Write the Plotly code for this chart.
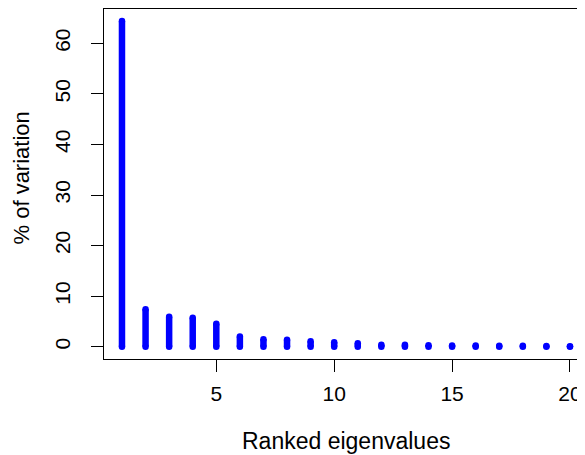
import plotly.graph_objects as go

ranks = list(range(1, 21))
pct_variation = [64.4, 7.4, 5.9, 5.75, 4.55, 2.0, 1.5, 1.4, 1.07, 0.87,
                 0.67, 0.4, 0.4, 0.3, 0.25, 0.25, 0.2, 0.2, 0.15, 0.1]
x_ticks = [5, 10, 15, 20]
y_ticks = [0, 10, 20, 30, 40, 50, 60]

xs, ys = [], []
for r, v in zip(ranks, pct_variation):
    xs += [r, r, None]
    ys += [0, v, None]

fig = go.Figure()
fig.add_trace(go.Scatter(
    x=xs, y=ys, mode="lines+markers",
    line=dict(color="#0000FF", width=6.5),
    marker=dict(color="#0000FF", size=6.5, line=dict(width=0)),
    hoverinfo="skip", showlegend=False, cliponaxis=False))

font = dict(family="Liberation Sans, Arial, sans-serif", size=21, color="black")
xt_font = dict(family="Liberation Sans, Arial, sans-serif", size=23, color="black")
yt_font = dict(family="Liberation Sans, Arial, sans-serif", size=22, color="black")
# page body has an 8px default margin, so the figure is 8px smaller
fig.update_layout(
    width=577, height=447,
    margin=dict(l=96, r=0, t=1, b=96, pad=0, autoexpand=False),
    paper_bgcolor="white", plot_bgcolor="white",
    font=font,
    xaxis=dict(range=[0.2375, 20.637], tickvals=x_ticks, ticktext=[str(t) for t in x_ticks],
               showgrid=False, zeroline=False, showline=True, linecolor="black", linewidth=1,
               mirror=True, ticks="outside", ticklen=12, tickcolor="black", tickwidth=1,
               ticklabelstandoff=4, automargin=False),
    yaxis=dict(range=[-2.43, 66.78], tickvals=y_ticks, ticktext=[str(t) for t in y_ticks],
               showgrid=False, zeroline=False, showline=True, linecolor="black", linewidth=1,
               ticks="outside", ticklen=12, tickcolor="black", tickwidth=1, tickangle=-90,
               ticklabelstandoff=13, automargin=False),
    annotations=[
        dict(text="Ranked eigenvalues", xref="paper", yref="paper", x=0.503, y=-0.2393,
             yshift=2, xanchor="center", yanchor="middle", showarrow=False, font=xt_font),
        dict(text="% of variation", xref="paper", yref="paper", x=0, y=0.5157,
             xshift=-82, xanchor="center", yanchor="middle", textangle=-90,
             showarrow=False, font=yt_font),
    ],
)
fig.write_html("out.html")
